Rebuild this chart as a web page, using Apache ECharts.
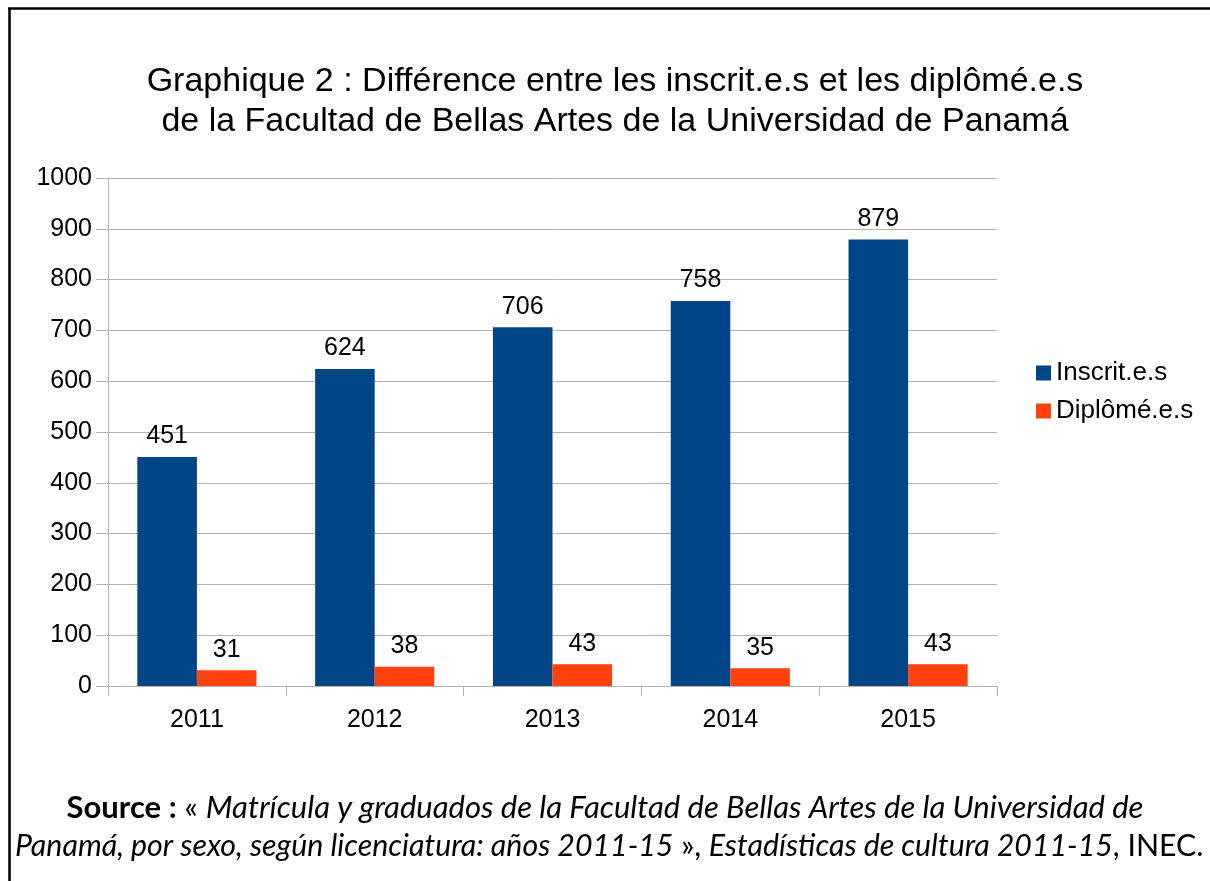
<!DOCTYPE html>
<html>
<head>
<meta charset="utf-8">
<script src="https://cdn.jsdelivr.net/npm/echarts@6/dist/echarts.min.js"></script>
<style>
  html, body { margin: 0; padding: 0; background: #fff; }
  #main { width: 1210px; height: 881px; }
</style>
</head>
<body>
<div id="main"></div>
<script>
var years = ['2011', '2012', '2013', '2014', '2015'];
var inscrits = [451, 624, 706, 758, 879];
var diplomes = [31, 38, 43, 35, 43];
var yTicks = [0, 100, 200, 300, 400, 500, 600, 700, 800, 900, 1000];

var font = '"Liberation Sans", Arial, sans-serif';
var srcFont = 'Lato, "Open Sans", sans-serif';

var myCharts = echarts.init(document.getElementById('main'));
var option = {
  backgroundColor: '#fff',
  animation: false,
  title: {
    text: 'Graphique 2 : Différence entre les inscrit.e.s et les diplômé.e.s\nde la Facultad de Bellas Artes de la Universidad de Panamá',
    left: 610,
    top: 57,
    textAlign: 'center',
    textStyle: { fontFamily: font, fontSize: 34, fontWeight: 'normal', color: '#000', lineHeight: 40 }
  },
  legend: {
    orient: 'vertical',
    left: 1031,
    top: 355,
    itemWidth: 15,
    itemHeight: 15,
    itemGap: 12,
    icon: 'rect',
    textStyle: { fontFamily: font, fontSize: 26, color: '#000' },
    data: ['Inscrit.e.s', 'Diplômé.e.s']
  },
  grid: { left: 108, top: 178, width: 889, height: 508, containLabel: false },
  xAxis: {
    type: 'category',
    data: years,
    axisLine: { lineStyle: { color: '#b3b3b3', width: 1 } },
    axisTick: { show: true, length: 10, lineStyle: { color: '#b3b3b3' } },
    axisLabel: { fontFamily: font, fontSize: 25, color: '#000', margin: 22 },
    splitLine: { show: false }
  },
  yAxis: {
    type: 'value',
    min: yTicks[0],
    max: yTicks[yTicks.length - 1],
    interval: 100,
    axisLine: { show: true, lineStyle: { color: '#b3b3b3' } },
    axisTick: { show: true, length: 12, lineStyle: { color: '#b3b3b3' } },
    axisLabel: {
      fontFamily: font, fontSize: 25, color: '#000', margin: 16,
      formatter: function (v) { return String(v); }
    },
    splitLine: { show: true, lineStyle: { color: '#b3b3b3' } }
  },
  series: [
    {
      name: 'Inscrit.e.s',
      type: 'bar',
      data: inscrits,
      barGap: '0%',
      barCategoryGap: '33%',
      itemStyle: { color: '#004586' },
      label: { show: true, position: 'top', distance: 8, fontFamily: font, fontSize: 25, color: '#000' }
    },
    {
      name: 'Diplômé.e.s',
      type: 'bar',
      data: diplomes,
      barGap: '0%',
      barCategoryGap: '33%',
      itemStyle: { color: '#ff420e' },
      label: { show: true, position: 'top', distance: 8, fontFamily: font, fontSize: 25, color: '#000' }
    }
  ],
  graphic: [
    { type: 'line', shape: { x1: 9.5, y1: 8, x2: 9.5, y2: 881 }, style: { stroke: '#000', lineWidth: 2.5 } },
    { type: 'line', shape: { x1: 8, y1: 8.5, x2: 1210, y2: 8.5 }, style: { stroke: '#000', lineWidth: 2.5 } },
    {
      type: 'text',
      left: 'center',
      top: 792,
      style: {
        text: '{b|Source :} « {i|Matrícula y graduados de la Facultad de Bellas Artes de la Universidad de}',
        font: '31px ' + srcFont,
        fill: '#000',
        rich: {
          b: { fontFamily: srcFont, fontSize: 31, fontWeight: 'bold', fill: '#000' },
          i: { fontFamily: srcFont, fontSize: 31, fontStyle: 'italic', fill: '#000' }
        }
      }
    },
    {
      type: 'text',
      left: 15,
      top: 831,
      style: {
        text: '{i|Panamá, por sexo, según licenciatura: años 2011-15} », {i|Estadísticas de cultura 2011-15}, INEC.',
        font: '30.3px ' + srcFont,
        fill: '#000',
        rich: {
          i: { fontFamily: srcFont, fontSize: 30.3, fontStyle: 'italic', fill: '#000' }
        }
      }
    }
  ]
};
myCharts.setOption(option);
</script>
</body>
</html>
